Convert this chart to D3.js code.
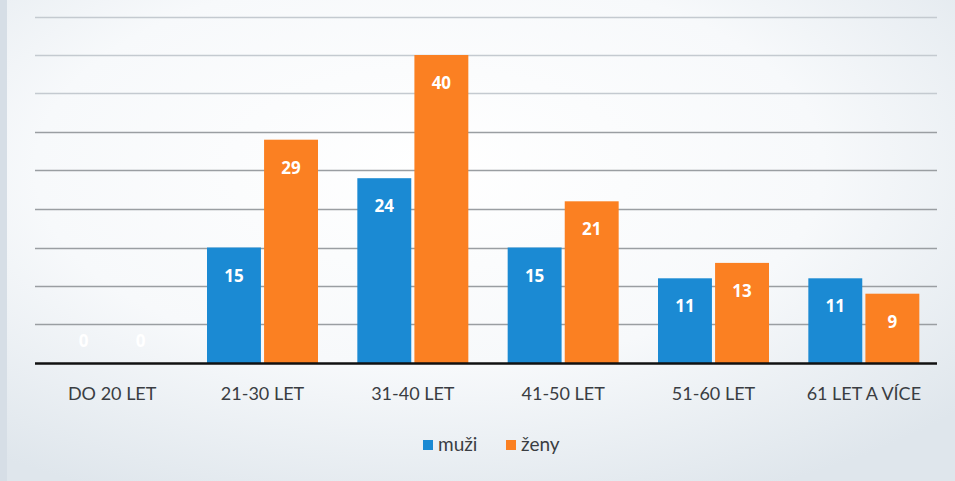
<!DOCTYPE html>
<html><head><meta charset="utf-8">
<script src="https://cdn.jsdelivr.net/npm/d3@7"></script>
<style>
html,body{margin:0;padding:0;background:#eef2f6;}
svg{display:block;}
</style></head>
<body>
<svg id="c" width="955" height="481"></svg>
<script>
const categories = ["DO 20 LET","21-30 LET","31-40 LET","41-50 LET","51-60 LET","61 LET A VÍCE"];
const seriesNames = ["muži","ženy"];
const muzi = [0,15,24,15,11,11];
const zeny = [0,29,40,21,13,9];
const yTicks = [0,5,10,15,20,25,30,35,40,45];
const colors = ["#1b8ad3","#fb8022"];

(function(){
const svg = d3.select("#c");
const W=955,H=481;
const defs = svg.append("defs");
const g1 = defs.append("radialGradient").attr("id","bg").attr("cx","45%").attr("cy","35%").attr("r","75%");
g1.append("stop").attr("offset","0%").attr("stop-color","#ffffff");
g1.append("stop").attr("offset","55%").attr("stop-color","#f7f9fb");
g1.append("stop").attr("offset","100%").attr("stop-color","#dfe6ec");
svg.append("rect").attr("width",W).attr("height",H).attr("fill","url(#bg)");
svg.append("rect").attr("x",0).attr("y",0).attr("width",7).attr("height",H).attr("fill","#d6dee6");

const pl=37,pr=939,pt=16.5,pb=363;
const x = d3.scaleBand().domain(categories).range([pl,pr]).paddingInner(0).paddingOuter(0);
const y = d3.scaleLinear().domain([0,45]).range([pb,pt]);
const xs = d3.scaleBand().domain(seriesNames).range([0,111]).paddingInner(0.055);

svg.append("g").selectAll("line").data(yTicks.filter(d=>d>0)).join("line")
  .attr("x1",pl-2).attr("x2",pr-2)
  .attr("y1",d=>Math.round(y(d))+0.5).attr("y2",d=>Math.round(y(d))+0.5)
  .attr("stroke",(d)=> d>=35 ? "#c4cad0" : "#9a9ea2").attr("stroke-width",1.3);

const data = categories.map((c,i)=>({cat:c, vals:[muzi[i],zeny[i]]}));
const groups = svg.append("g").selectAll("g").data(data).join("g")
  .attr("transform",d=>`translate(${x(d.cat)+(x.bandwidth()-111)/2},0)`);
groups.selectAll("rect").data(d=>d.vals.map((v,j)=>({v,s:seriesNames[j],j}))).join("rect")
  .attr("x",d=>xs(d.s)).attr("width",xs.bandwidth())
  .attr("y",d=>y(d.v)).attr("height",d=>pb-y(d.v))
  .attr("fill",d=>colors[d.j]);
groups.selectAll("text").data(d=>d.vals.map((v,j)=>({v,s:seriesNames[j],j}))).join("text")
  .attr("x",d=>xs(d.s)+xs.bandwidth()/2)
  .attr("y",d=> d.v===0 ? pb-16 : y(d.v)+34)
  .attr("text-anchor","middle")
  .attr("font-family","'Open Sans', sans-serif").attr("font-weight","700").attr("font-size","17px")
  .attr("fill","#ffffff").text(d=>d.v);

svg.append("line").attr("x1",pl-2).attr("x2",pr-2).attr("y1",pb+0.5).attr("y2",pb+0.5)
  .attr("stroke","#111").attr("stroke-width",2.5);

const xa = svg.append("g").attr("transform",`translate(0,${pb})`).call(d3.axisBottom(x).tickSize(0).tickPadding(24));
xa.select(".domain").remove();
xa.selectAll("text").attr("font-family","Lato, 'Open Sans', sans-serif").attr("font-size","18px").attr("fill","#3a3d42");

const lg = svg.append("g").attr("transform","translate(0,451)");
const legItems=[{n:"muži",x:423,c:colors[0]},{n:"ženy",x:506,c:colors[1]}];
lg.selectAll("rect").data(legItems).join("rect").attr("x",d=>d.x).attr("y",-11).attr("width",10).attr("height",10).attr("fill",d=>d.c);
lg.selectAll("text").data(legItems).join("text").attr("x",d=>d.x+15).attr("y",0)
  .attr("font-family","Lato, 'Open Sans', sans-serif").attr("font-size","19px").attr("fill","#3a3d42").text(d=>d.n);
})();
</script>
</body></html>
